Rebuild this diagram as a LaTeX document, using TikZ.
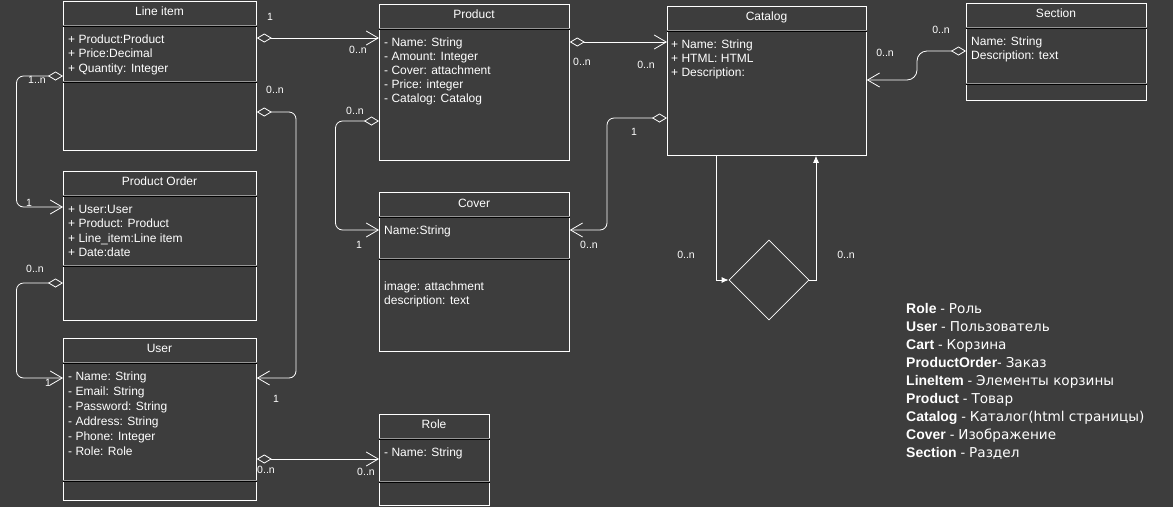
\documentclass[tikz,border=0pt]{standalone}
\usepackage{fontspec}
\setmainfont{Liberation Sans}
\newfontfamily\rusfont{DejaVu Sans}
\usetikzlibrary{arrows.meta,shapes.geometric}
\definecolor{bg}{RGB}{61,61,61}
\definecolor{sepgray}{RGB}{150,150,150}
\newcommand\rowsat[5]{\foreach \t [count=\i from 0] in {#5}{\node[rowtxt] (#1-\i) at (#2,{#3+#4*\i}) {\t};}}
\newcommand\ru[1]{{\rusfont\fontsize{13.6}{16}\selectfont #1}}
\begin{document}
\begin{tikzpicture}[x=1pt,y=-1pt,
  box/.style={draw=white,line width=0.8pt,fill=bg,anchor=north west,inner sep=0},
  ttl/.style={text=white,anchor=base,inner sep=0,font=\fontsize{12}{14}\selectfont},
  rowtxt/.style={text=white,anchor=base west,inner sep=0,font=\fontsize{12}{14}\selectfont},
  lbl/.style={text=white,inner sep=0,font=\fontsize{10.5}{12}\selectfont},
  leg/.style={text=white,anchor=base west,inner sep=0,font=\fontsize{14}{16}\selectfont},
  sepg/.style={draw=sepgray,line width=0.8pt},
  sepk/.style={draw=black,line width=0.8pt},
  assoc/.style={draw=white,line width=0.8pt,rounded corners=7,
    {Diamond[open,length=15pt,width=9pt]}-{Straight Barb[length=12pt,width=14pt]}},
  loop/.style={draw=white,line width=0.8pt,-{Latex[length=7pt,width=6pt]}}]
\fill[bg] (0,0) rectangle (1173,507);
\useasboundingbox (0,0) rectangle (1173,507);

% Line item
\node[box,minimum width=193,minimum height=149] (li) at (63,1) {};
\node[ttl] (li-t) at (159.5,15) {Line item};
\draw[sepg] (li.west |- 0,25.5) -- (li.east |- 0,25.5);
\draw[sepk] (li.west |- 0,26.8) -- (li.east |- 0,26.8);
\draw[sepg] (li.west |- 0,81.5) -- (li.east |- 0,81.5);
\draw[sepk] (li.west |- 0,82.8) -- (li.east |- 0,82.8);
\rowsat{li}{68}{43}{14.5}{+ Product:Product,+ Price:Decimal,+ Quantity: Integer}

% Product Order
\node[box,minimum width=193,minimum height=149] (po) at (63,171) {};
\node[ttl] (po-t) at (159.5,185) {Product Order};
\draw[sepg] (po.west |- 0,195.5) -- (po.east |- 0,195.5);
\draw[sepk] (po.west |- 0,196.8) -- (po.east |- 0,196.8);
\draw[sepg] (po.west |- 0,265.5) -- (po.east |- 0,265.5);
\draw[sepk] (po.west |- 0,266.8) -- (po.east |- 0,266.8);
\rowsat{po}{68}{213}{14.5}{+ User:User,+ Product: Product,+ Line\_item:Line item,+ Date:date}

% User
\node[box,minimum width=193,minimum height=162] (user) at (63,338) {};
\node[ttl] (user-t) at (159.5,352) {User};
\draw[sepg] (user.west |- 0,362.5) -- (user.east |- 0,362.5);
\draw[sepk] (user.west |- 0,363.8) -- (user.east |- 0,363.8);
\draw[sepg] (user.west |- 0,480.5) -- (user.east |- 0,480.5);
\draw[sepk] (user.west |- 0,481.8) -- (user.east |- 0,481.8);
\rowsat{user}{68}{380}{15}{- Name: String,- Email: String,- Password: String,- Address: String,- Phone: Integer,- Role: Role}

% Role
\node[box,minimum width=110,minimum height=91] (role) at (379,414) {};
\node[ttl] (role-t) at (434,428) {Role};
\draw[sepg] (role.west |- 0,438.5) -- (role.east |- 0,438.5);
\draw[sepk] (role.west |- 0,439.8) -- (role.east |- 0,439.8);
\draw[sepg] (role.west |- 0,481.5) -- (role.east |- 0,481.5);
\draw[sepk] (role.west |- 0,482.8) -- (role.east |- 0,482.8);
\node[rowtxt] (role-0) at (384,456) {- Name: String};

% Product
\node[box,minimum width=190,minimum height=156] (prod) at (379,4) {};
\node[ttl] (prod-t) at (474,18) {Product};
\draw[sepg] (prod.west |- 0,28.5) -- (prod.east |- 0,28.5);
\draw[sepk] (prod.west |- 0,29.8) -- (prod.east |- 0,29.8);
\rowsat{prod}{384}{46}{14}{- Name: String,- Amount: Integer,- Cover: attachment,- Price: integer,- Catalog: Catalog}

% Cover
\node[box,minimum width=190,minimum height=159] (cover) at (379,192) {};
\node[ttl] (cover-t) at (474,207) {Cover};
\draw[sepg] (cover.west |- 0,216.5) -- (cover.east |- 0,216.5);
\draw[sepk] (cover.west |- 0,217.8) -- (cover.east |- 0,217.8);
\draw[sepg] (cover.west |- 0,258.5) -- (cover.east |- 0,258.5);
\draw[sepk] (cover.west |- 0,259.8) -- (cover.east |- 0,259.8);
\node[rowtxt] (cover-0) at (384,234) {Name:String};
\node[rowtxt] (cover-1) at (384,290) {image: attachment};
\node[rowtxt] (cover-2) at (384,304) {description: text};

% Catalog
\node[box,minimum width=199,minimum height=149] (cat) at (667,6) {};
\node[ttl] (cat-t) at (766.5,20) {Catalog};
\draw[sepg] (cat.west |- 0,30.5) -- (cat.east |- 0,30.5);
\draw[sepk] (cat.west |- 0,31.8) -- (cat.east |- 0,31.8);
\rowsat{cat}{671}{48}{14}{+ Name: String,+ HTML: HTML,+ Description:}

% Section
\node[box,minimum width=180,minimum height=97] (sec) at (966,3) {};
\node[ttl] (sec-t) at (1056,17) {Section};
\draw[sepg] (sec.west |- 0,27.5) -- (sec.east |- 0,27.5);
\draw[sepk] (sec.west |- 0,28.8) -- (sec.east |- 0,28.8);
\draw[sepg] (sec.west |- 0,83.5) -- (sec.east |- 0,83.5);
\draw[sepk] (sec.west |- 0,84.8) -- (sec.east |- 0,84.8);
\rowsat{sec}{971}{45}{14}{Name: String,Description: text}

% Diamond (relationship)
\node[draw=white,line width=0.8pt,diamond,minimum width=80,minimum height=80,inner sep=0] (dia) at (769,280) {};

% Connectors
\draw[assoc] (li.east |- 0,38) -- (prod.west |- 0,38);
\node[lbl] (l1a) at (270,17) {1};
\node[lbl] (l1b) at (358,50) {0..n};

\draw[assoc] (li.east |- 0,112) -- (296,112) -- (296,378) -- (user.east |- 0,378);
\node[lbl] (l2a) at (275,90) {0..n};
\node[lbl] (l2b) at (276,399) {1};

\draw[assoc] (li.west |- 0,76) -- (16.5,76) -- (16.5,207) -- (po.west |- 0,207);
\node[lbl] (l3a) at (37,80) {1..n};
\node[lbl] (l3b) at (29,203) {1};

\draw[assoc] (po.west |- 0,283) -- (16.5,283) -- (16.5,378) -- (user.west |- 0,378);
\node[lbl] (l4a) at (35,269) {0..n};
\node[lbl] (l4b) at (48,383) {1};

\draw[assoc] (user.east |- 0,459) -- (role.west |- 0,459);
\node[lbl] (l5a) at (266,470) {0..n};
\node[lbl] (l5b) at (366,472) {0..n};

\draw[assoc] (prod.west |- 0,121) -- (335.5,121) -- (335.5,230) -- (cover.west |- 0,230);
\node[lbl] (l6a) at (355,111) {0..n};
\node[lbl] (l6b) at (359,245) {1};

\draw[assoc] (prod.east |- 0,42) -- (cat.west |- 0,42);
\node[lbl] (l7a) at (582,62) {0..n};
\node[lbl] (l7b) at (646,65) {0..n};

\draw[assoc] (cat.west |- 0,118) -- (607,118) -- (607,230) -- (cover.east |- 0,230);
\node[lbl] (l8a) at (634,132) {1};
\node[lbl] (l8b) at (589,245) {0..n};

\draw[assoc,rounded corners=10] (sec.west |- 0,51) -- (917,51) -- (917,80) -- (cat.east |- 0,80);
\node[lbl] (l9a) at (941,30) {0..n};
\node[lbl] (l9b) at (885,53) {0..n};

\draw[loop] (cat.south -| 716,0) -- (716,280) -- (dia.west);
\draw[loop] (dia.east) -- (816,280) -- (cat.south -| 816,0);
\node[lbl] (l10a) at (686,255) {0..n};
\node[lbl] (l10b) at (846,255) {0..n};

% Legend
\node[leg] (g0) at (906,313) {\textbf{Role} - \ru{Роль}};
\node[leg] (g1) at (906,331) {\textbf{User} - \ru{Пользователь}};
\node[leg] (g2) at (906,349) {\textbf{Cart} - \ru{Корзина}};
\node[leg] (g3) at (906,367) {\textbf{ProductOrder}- \ru{Заказ}};
\node[leg] (g4) at (906,385) {\textbf{LineItem} - \ru{Элементы корзины}};
\node[leg] (g5) at (906,403) {\textbf{Product} - \ru{Товар}};
\node[leg] (g6) at (906,421) {\textbf{Catalog} - \ru{Каталог(html страницы)}};
\node[leg] (g7) at (906,439) {\textbf{Cover} - \ru{Изображение}};
\node[leg] (g8) at (906,457) {\textbf{Section} - \ru{Раздел}};
\end{tikzpicture}
\end{document}
